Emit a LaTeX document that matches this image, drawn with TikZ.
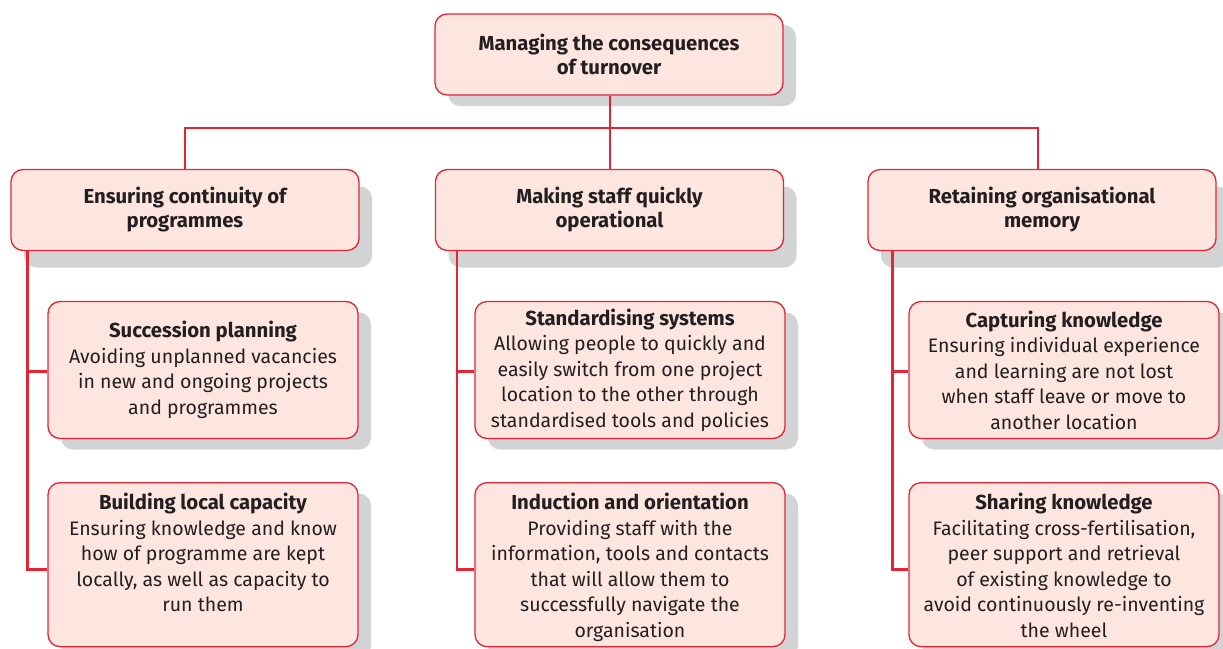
\documentclass[tikz,border=0pt]{standalone}
\usepackage{fontspec}
\setmainfont{Fira Sans}
\usetikzlibrary{shadows}
\definecolor{boxred}{HTML}{E42535}
\definecolor{boxfill}{HTML}{FDE6DF}
\definecolor{shadegrey}{HTML}{D2D3D5}
\definecolor{inkgrey}{HTML}{231F20}
\newcommand\subheadfont{\bfseries\fontsize{20.3}{25.5}\selectfont}
\begin{document}
\begin{tikzpicture}[x=1pt,y=-1pt,
    box/.style={draw=boxred, line width=1.3pt, fill=boxfill, rounded corners=12pt,
      text=inkgrey, align=center, inner sep=0pt,
      drop shadow={shadow xshift=13pt, shadow yshift=#1, fill=shadegrey, opacity=1}},
    box/.default=-11pt,
    headbox/.style={box=#1, minimum width=348pt, minimum height=81pt,
      font=\bfseries\fontsize{20.3}{24}\selectfont},
    headbox/.default=-11pt,
    subbox/.style={box, minimum width=310pt, font=\fontsize{19.5}{25.5}\selectfont},
    subtext/.style={text=inkgrey, align=center, inner sep=0pt, font=\fontsize{19.5}{25.5}\selectfont},
    link/.style={draw=boxred, line width=2.5pt}]
  \useasboundingbox (0,0) rectangle (1223,648);

  \node[headbox] (top) at (609,54.5) {Managing the consequences\\of turnover};
  \node[headbox=-17pt] (ml) at (185,210) {Ensuring continuity of\\programmes};
  \node[headbox=-17pt] (mm) at (609.5,210) {Making staff quickly\\operational};
  \node[headbox=-17pt] (mr) at (1042,210) {Retaining organisational\\memory};

  \node[subbox, minimum height=137pt] (la1) at (203,370)
    {{\subheadfont Succession planning}\\Avoiding unplanned vacancies\\in new and ongoing projects\\and programmes};
  \node[subbox, minimum height=137pt] (ma1) at (630,370)
    {{\subheadfont Standardising systems}\\Allowing people to quickly and\\easily switch from one project\\location to the other through\\standardised tools and policies};
  \node[subbox, minimum height=137pt] (ra1) at (1064,370)
    {{\subheadfont Capturing knowledge}\\Ensuring individual experience\\and learning are not lost\\when staff leave or move to\\another location};

  \node[subbox, minimum height=164pt, anchor=north] (la2) at (203,482) {};
  \node[subbox, minimum height=164pt, anchor=north] (ma2) at (630,482) {};
  \node[subbox, minimum height=164pt, anchor=north] (ra2) at (1064,482) {};
  \node[subtext, anchor=north] (la2t) at ([yshift=-11pt]la2.north)
    {{\subheadfont Building local capacity}\\Ensuring knowledge and know\\how of programme are kept\\locally, as well as capacity to\\run them};
  \node[subtext, anchor=north] (ma2t) at ([yshift=-11pt]ma2.north)
    {{\subheadfont Induction and orientation}\\Providing staff with the\\information, tools and contacts\\that will allow them to\\successfully navigate the\\organisation};
  \node[subtext, anchor=north] (ra2t) at ([yshift=-11pt]ra2.north)
    {{\subheadfont Sharing knowledge}\\Facilitating cross-fertilisation,\\peer support and retrieval\\of existing knowledge to\\avoid continuously re-inventing\\the wheel};

  \coordinate (fork) at (610,128);
  \draw[link] ([xshift=1pt]top.south) -- ([xshift=0.5pt]mm.north);
  \draw[link] (ml.north) |- (fork) -| ([xshift=-4pt]mr.north);

  \draw[link] ([xshift=17pt]ml.south west) |- ([yshift=-1.5pt]la1.west);
  \draw[link] ([xshift=17pt]ml.south west) |- ([yshift=-5pt]la2.west);
  \draw[link] ([xshift=22pt]mm.south west) |- ([yshift=-1.5pt]ma1.west);
  \draw[link] ([xshift=22pt]mm.south west) |- ([yshift=-5pt]ma2.west);
  \draw[link] ([xshift=25pt]mr.south west) |- ([yshift=-1.5pt]ra1.west);
  \draw[link] ([xshift=25pt]mr.south west) |- ([yshift=-5pt]ra2.west);
\end{tikzpicture}
\end{document}
